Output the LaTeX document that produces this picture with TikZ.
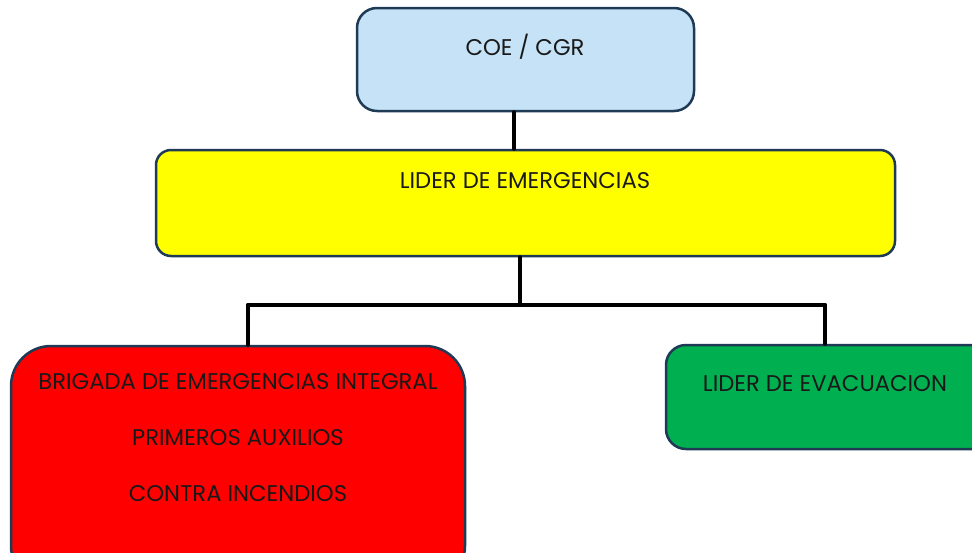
\documentclass[tikz,border=0pt]{standalone}
\usepackage{fontspec}
\setmainfont{Poppins}
\usetikzlibrary{positioning}
\definecolor{coeblue}{HTML}{C5E2F6}
\definecolor{boxline}{HTML}{1E3A55}
\definecolor{evacgreen}{HTML}{00B050}
\definecolor{lideryellow}{HTML}{FFFF00}
\definecolor{brigadared}{HTML}{FF0000}
\begin{document}
\begin{tikzpicture}[
    x=1pt, y=-1pt,
    box/.style={draw=boxline, line width=2.5pt, minimum width=#1, inner sep=0pt},
    lbl/.style={font=\fontsize{22.7}{27}\selectfont, text=black!90},
    link/.style={line width=4pt, line cap=round}
    ]
    \clip (0,0) rectangle (972,552);
    \useasboundingbox (0,0) rectangle (972,552);
    % boxes
    \node[box=337pt, fill=coeblue, minimum height=103pt, rounded corners=20pt] (coe) at (525.5,59.5) {};
    \node[box=739pt, fill=lideryellow, minimum height=106pt, rounded corners=15pt] (lider) at (525.5,203) {};
    \node[box=454pt, fill=brigadared, minimum height=240pt, rounded corners=40pt] (brigada) at (238,466) {};
    \node[box=330pt, fill=evacgreen, minimum height=104pt, rounded corners=20pt] (evac) at (831,397) {};
    % texts
    \node[lbl] (coetxt) at (525,47) {COE / CGR};
    \node[lbl] (lidertxt) at (525,181) {LIDER DE EMERGENCIAS};
    \node[lbl, align=center] (brigadatxt) at (238,438)
      {BRIGADA DE EMERGENCIAS INTEGRAL\\[29pt] PRIMEROS AUXILIOS\\[29pt] CONTRA INCENDIOS};
    \node[lbl] (evactxt) at (825,384) {LIDER DE EVACUACION};
    % connectors
    \coordinate (split) at (520,305);
    \coordinate (leftend) at (248,305);
    \coordinate (rightend) at (825,305);
    \draw[link] (coe.south -| 514,0) -- (lider.north -| 514,0);
    \draw[link] (lider.south -| split) -- (split);
    \draw[link] (leftend) -- (rightend);
    \draw[link] (leftend) -- (brigada.north -| leftend);
    \draw[link] (rightend) -- (evac.north -| rightend);
\end{tikzpicture}
\end{document}
